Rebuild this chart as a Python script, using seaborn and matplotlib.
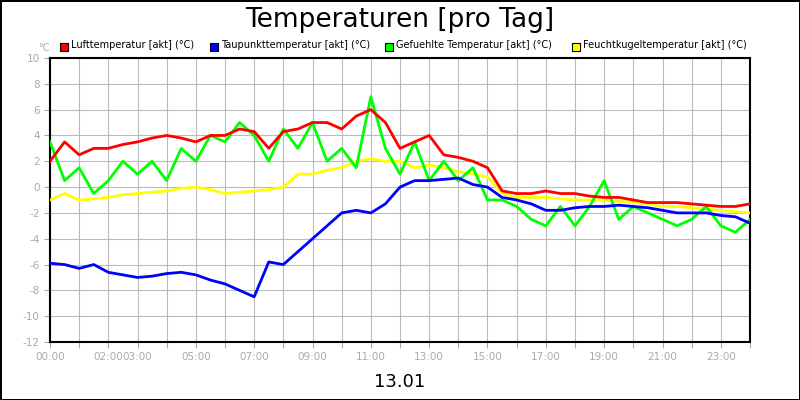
import numpy as np
import pandas as pd
import matplotlib
matplotlib.use("Agg")
import matplotlib.pyplot as plt
import seaborn as sns

hours = [i * 0.5 for i in range(49)]
luft = [2, 3.5, 2.5, 3, 3, 3.3, 3.5, 3.8, 4, 3.8, 3.5, 4, 4, 4.5, 4.3, 3, 4.3, 4.5, 5, 5, 4.5, 5.5,
        6, 5, 3, 3.5, 4, 2.5, 2.3, 2.0, 1.5, -0.3, -0.5, -0.5, -0.3, -0.5, -0.5, -0.7, -0.8, -0.8,
        -1, -1.2, -1.2, -1.2, -1.3, -1.4, -1.5, -1.5, -1.3]
taupunkt = [-5.9, -6, -6.3, -6, -6.6, -6.8, -7, -6.9, -6.7, -6.6, -6.8, -7.2, -7.5, -8, -8.5, -5.8,
            -6, -5, -4, -3, -2, -1.8, -2, -1.3, 0, 0.5, 0.5, 0.6, 0.7, 0.2, 0, -0.8, -1, -1.3,
            -1.8, -1.8, -1.6, -1.5, -1.5, -1.4, -1.5, -1.6, -1.8, -2, -2, -2, -2.2, -2.3, -2.8]
gefuehlt = [3.5, 0.5, 1.5, -0.5, 0.5, 2, 1, 2, 0.5, 3, 2, 4, 3.5, 5, 4, 2, 4.5, 3, 5, 2, 3, 1.5,
            7, 3, 1, 3.5, 0.5, 2, 0.5, 1.5, -1, -1, -1.5, -2.5, -3, -1.5, -3, -1.5, 0.5, -2.5,
            -1.5, -2, -2.5, -3, -2.5, -1.5, -3, -3.5, -2.5]
feucht = [-1, -0.5, -1, -0.9, -0.8, -0.6, -0.5, -0.4, -0.3, -0.1, 0, -0.2, -0.5, -0.4, -0.3, -0.2,
          0, 1, 1, 1.3, 1.5, 2, 2.2, 2, 2, 1.5, 1.7, 1.5, 1.2, 1, 0.8, -0.5, -0.8, -0.8, -0.8,
          -0.9, -1, -1, -1, -1.1, -1.2, -1.3, -1.5, -1.5, -1.6, -1.7, -1.8, -1.9, -2]

names = ["Lufttemperatur [akt] (°C)", "Taupunkttemperatur [akt] (°C)",
         "Gefuehlte Temperatur [akt] (°C)", "Feuchtkugeltemperatur [akt] (°C)"]
colors = ["#ff0000", "#0000ff", "#00ff00", "#ffff00"]
tick_hours = [0, 2, 3, 5, 7, 9, 11, 13, 15, 17, 19, 21, 23]

series = {names[0]: luft, names[1]: taupunkt, names[2]: gefuehlt, names[3]: feucht}
zorders = {names[0]: 6, names[1]: 5, names[2]: 4, names[3]: 3}

fig = plt.figure(figsize=(8, 4), dpi=100)
fig.patch.set_edgecolor("black")
fig.patch.set_linewidth(2)
ax = fig.add_axes([50 / 800, 58 / 400, 700 / 800, 284 / 400])
for n, c in zip(names, colors):
    sns.lineplot(x=hours, y=series[n], color=c, linewidth=2, ax=ax, zorder=zorders[n])
ax.set_xlim(0, 24)
ax.set_ylim(-12, 10)
ax.set_xticks(range(25))
ax.set_xticklabels([f"{h:02d}:00" if h in tick_hours else "" for h in range(25)],
                   fontsize=7.5, color="#aaaaaa")
ax.set_yticks(range(-12, 11, 2))
ax.set_yticklabels([str(v) for v in range(-12, 11, 2)], fontsize=7.5, color="#aaaaaa")
ax.grid(True, color="#bbbbbb", linewidth=0.8)
ax.tick_params(length=4, color="#aaaaaa")
for s in ax.spines.values():
    s.set_linewidth(1.5)
    s.set_color("black")

fig.text(0.5, 0.95, "Temperaturen [pro Tag]", ha="center", va="center", fontsize=19)
fig.text(0.5, 0.045, "13.01", ha="center", va="center", fontsize=13)
fig.text(38 / 800, 0.88, "°C", fontsize=7, color="#aaaaaa", va="center")
xs = [60, 210, 385, 572]
for x, n, c in zip(xs, names, colors):
    fig.patches.append(plt.Rectangle((x / 800, 0.873), 8 / 800, 8 / 400, transform=fig.transFigure,
                                     facecolor=c, edgecolor="black", linewidth=0.8))
    fig.text((x + 11) / 800, 0.888, n, fontsize=7, va="center")

fig.savefig("out.png", dpi=100, edgecolor=fig.get_edgecolor())
